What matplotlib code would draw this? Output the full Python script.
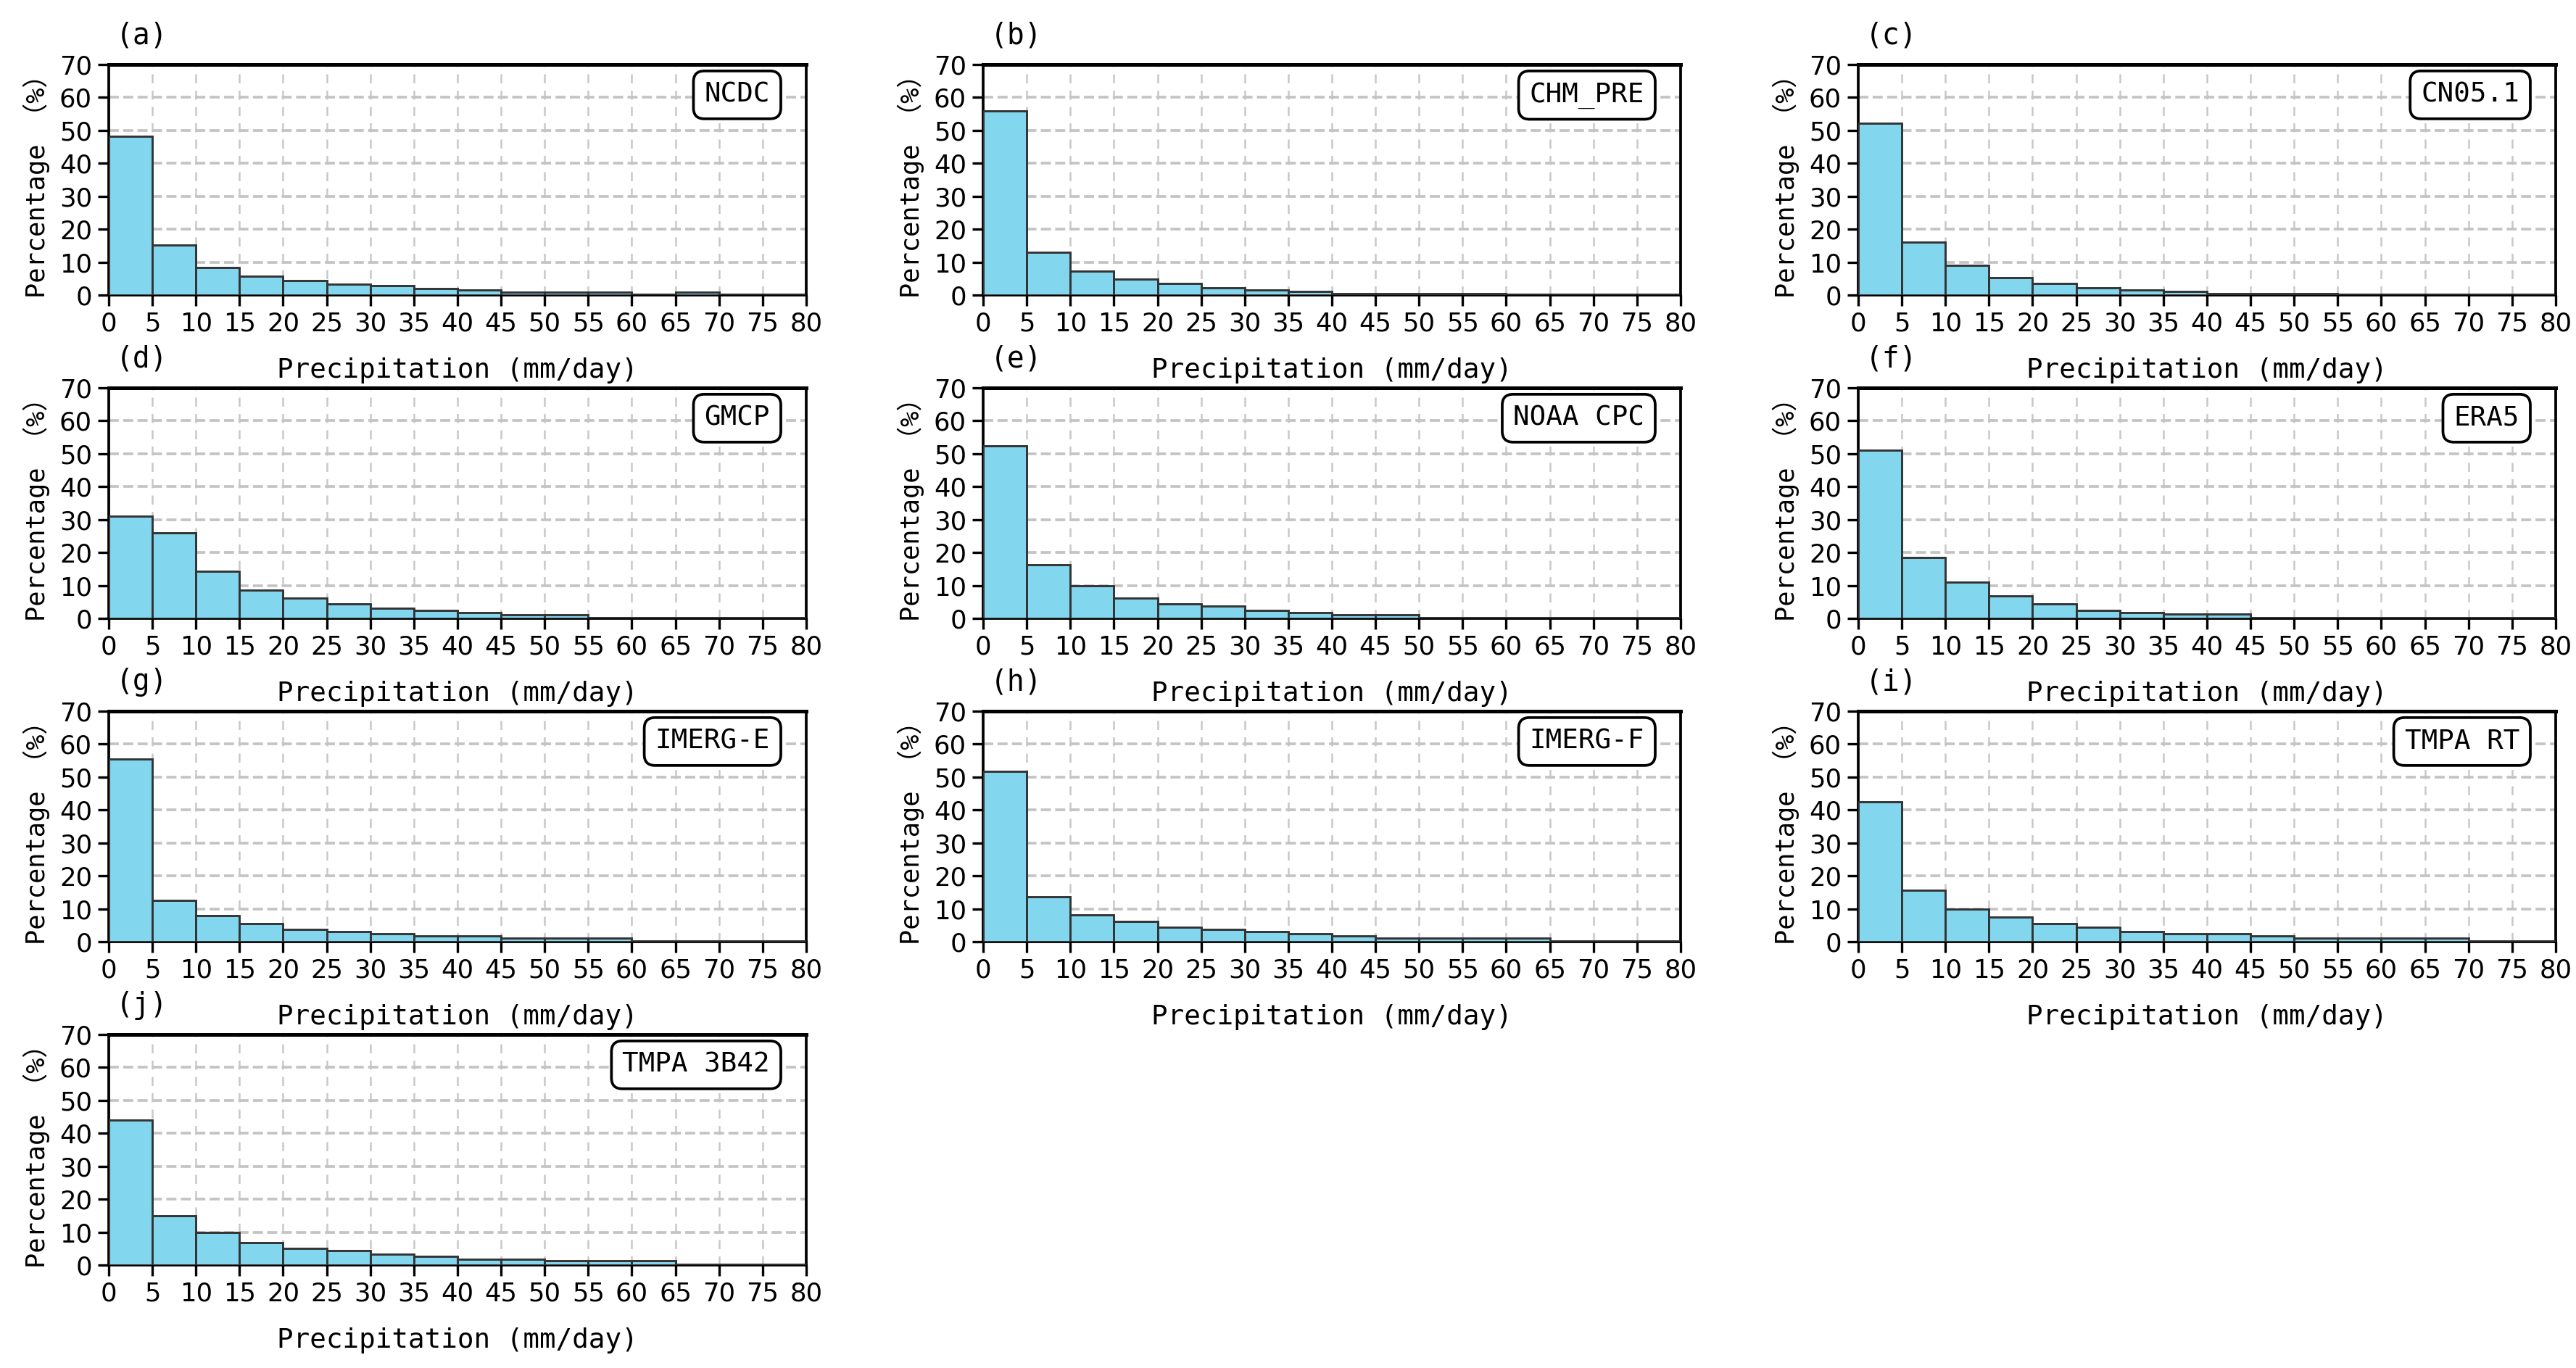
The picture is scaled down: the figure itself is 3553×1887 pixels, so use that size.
import numpy as np
import matplotlib
matplotlib.use('Agg')
import matplotlib.pyplot as plt
from matplotlib import font_manager

# bin edges (mm/day) and percentage in each 5 mm/day bin
bin_edges = list(range(0, 85, 5))

ncdc = [48.3, 15.1, 8.3, 5.8, 4.5, 3.4, 2.8, 2.0, 1.5, 0.8, 0.8, 0.8, 0.0, 0.8, 0.0, 0.0]
chm_pre = [56.0, 12.9, 7.2, 4.8, 3.5, 2.2, 1.6, 1.0, 0.4, 0.4, 0.4, 0.4, 0.0, 0.0, 0.0, 0.0]
cn05 = [52.2, 16.0, 9.1, 5.3, 3.5, 2.2, 1.6, 1.0, 0.4, 0.4, 0.4, 0.0, 0.0, 0.0, 0.0, 0.0]
gmcp = [31.0, 25.9, 14.2, 8.6, 6.1, 4.4, 3.1, 2.5, 1.8, 1.2, 1.2, 0.3, 0.3, 0.3, 0.3, 0.3]
noaa_cpc = [52.4, 16.3, 10.0, 6.2, 4.4, 3.7, 2.5, 1.8, 1.2, 1.2, 0.3, 0.3, 0.3, 0.3, 0.3, 0.3]
era5 = [51.0, 18.5, 11.1, 6.8, 4.4, 2.4, 1.8, 1.3, 1.3, 0.3, 0.3, 0.3, 0.3, 0.3, 0.3, 0.3]
imerg_e = [55.5, 12.5, 7.9, 5.5, 3.7, 3.1, 2.4, 1.8, 1.8, 1.2, 1.2, 1.2, 0.3, 0.3, 0.3, 0.3]
imerg_f = [51.8, 13.7, 8.1, 6.2, 4.3, 3.7, 3.1, 2.4, 1.7, 1.2, 1.2, 1.2, 1.2, 0.3, 0.3, 0.3]
tmpa_rt = [42.5, 15.6, 9.9, 7.4, 5.5, 4.3, 3.1, 2.4, 2.4, 1.7, 1.2, 1.2, 1.2, 1.2, 0.3, 0.3]
tmpa_3b42 = [44.0, 14.9, 9.8, 6.9, 5.1, 4.4, 3.2, 2.6, 1.8, 1.8, 1.3, 1.3, 1.3, 0.3, 0.3, 0.3]

names = ['NCDC', 'CHM_PRE', 'CN05.1', 'GMCP', 'NOAA CPC', 'ERA5',
         'IMERG-E', 'IMERG-F', 'TMPA RT', 'TMPA 3B42']
letters = ['(a)', '(b)', '(c)', '(d)', '(e)', '(f)', '(g)', '(h)', '(i)', '(j)']
series = [ncdc, chm_pre, cn05, gmcp, noaa_cpc, era5, imerg_e, imerg_f, tmpa_rt, tmpa_3b42]

x_ticks = list(range(0, 85, 5))
y_ticks = list(range(0, 80, 10))

# pick a narrow font for the tick numbers if there is one
available = {f.name for f in font_manager.fontManager.ttflist}
tick_font = 'Liberation Sans Narrow' if 'Liberation Sans Narrow' in available else 'DejaVu Sans'
mono = ['DejaVu Sans Mono', 'Noto Sans CJK SC']

plt.rcParams['font.family'] = mono
plt.rcParams['axes.unicode_minus'] = False

W, H = 3554, 1887
fig = plt.figure(figsize=(W / 300, H / 300), dpi=300)

col_left = [150, 1356, 2563]
row_top = [89, 535, 981, 1427]
ax_w, ax_h = 962, 318

bar_color = '#82d6ee'

for i, (vals, name, letter) in enumerate(zip(series, names, letters)):
    r, c = divmod(i, 3)
    left = col_left[c] / W
    bottom = 1 - (row_top[r] + ax_h) / H
    ax = fig.add_axes([left, bottom, ax_w / W, ax_h / H])

    ax.bar(bin_edges[:-1], vals, width=5, align='edge', color=bar_color,
           edgecolor='#333333', linewidth=0.7, zorder=3)

    ax.set_xlim(0, 80)
    ax.set_ylim(0, 70)
    ax.set_xticks(x_ticks)
    ax.set_yticks(y_ticks)
    ax.grid(axis='y', ls='--', lw=0.9, color='#c4c4c4', zorder=0)
    ax.grid(axis='x', ls=(0, (5, 4)), lw=0.6, color='#c8c8c8', zorder=0)

    ax.tick_params(axis='both', direction='out', length=3.5, width=0.8,
                   labelsize=8.5, pad=2)
    for lab in ax.get_xticklabels() + ax.get_yticklabels():
        lab.set_family(tick_font)
    for sp in ax.spines.values():
        sp.set_linewidth(0.9)
    ax.spines['top'].set_linewidth(1.2)

    ax.set_xlabel('Precipitation (mm/day)', fontsize=9, labelpad=7)
    ax.set_ylabel('Percentage （%）', fontsize=8.5, labelpad=3)

    ax.text(0.01, 1.125, letter, transform=ax.transAxes, fontsize=9.5,
            ha='left', va='center')
    ax.text(0.948, 0.925, name, transform=ax.transAxes, fontsize=9,
            ha='right', va='top', zorder=5,
            bbox=dict(boxstyle='round,pad=0.4', fc='white', ec='black', lw=0.9))

fig.savefig('out.png', dpi=300)
